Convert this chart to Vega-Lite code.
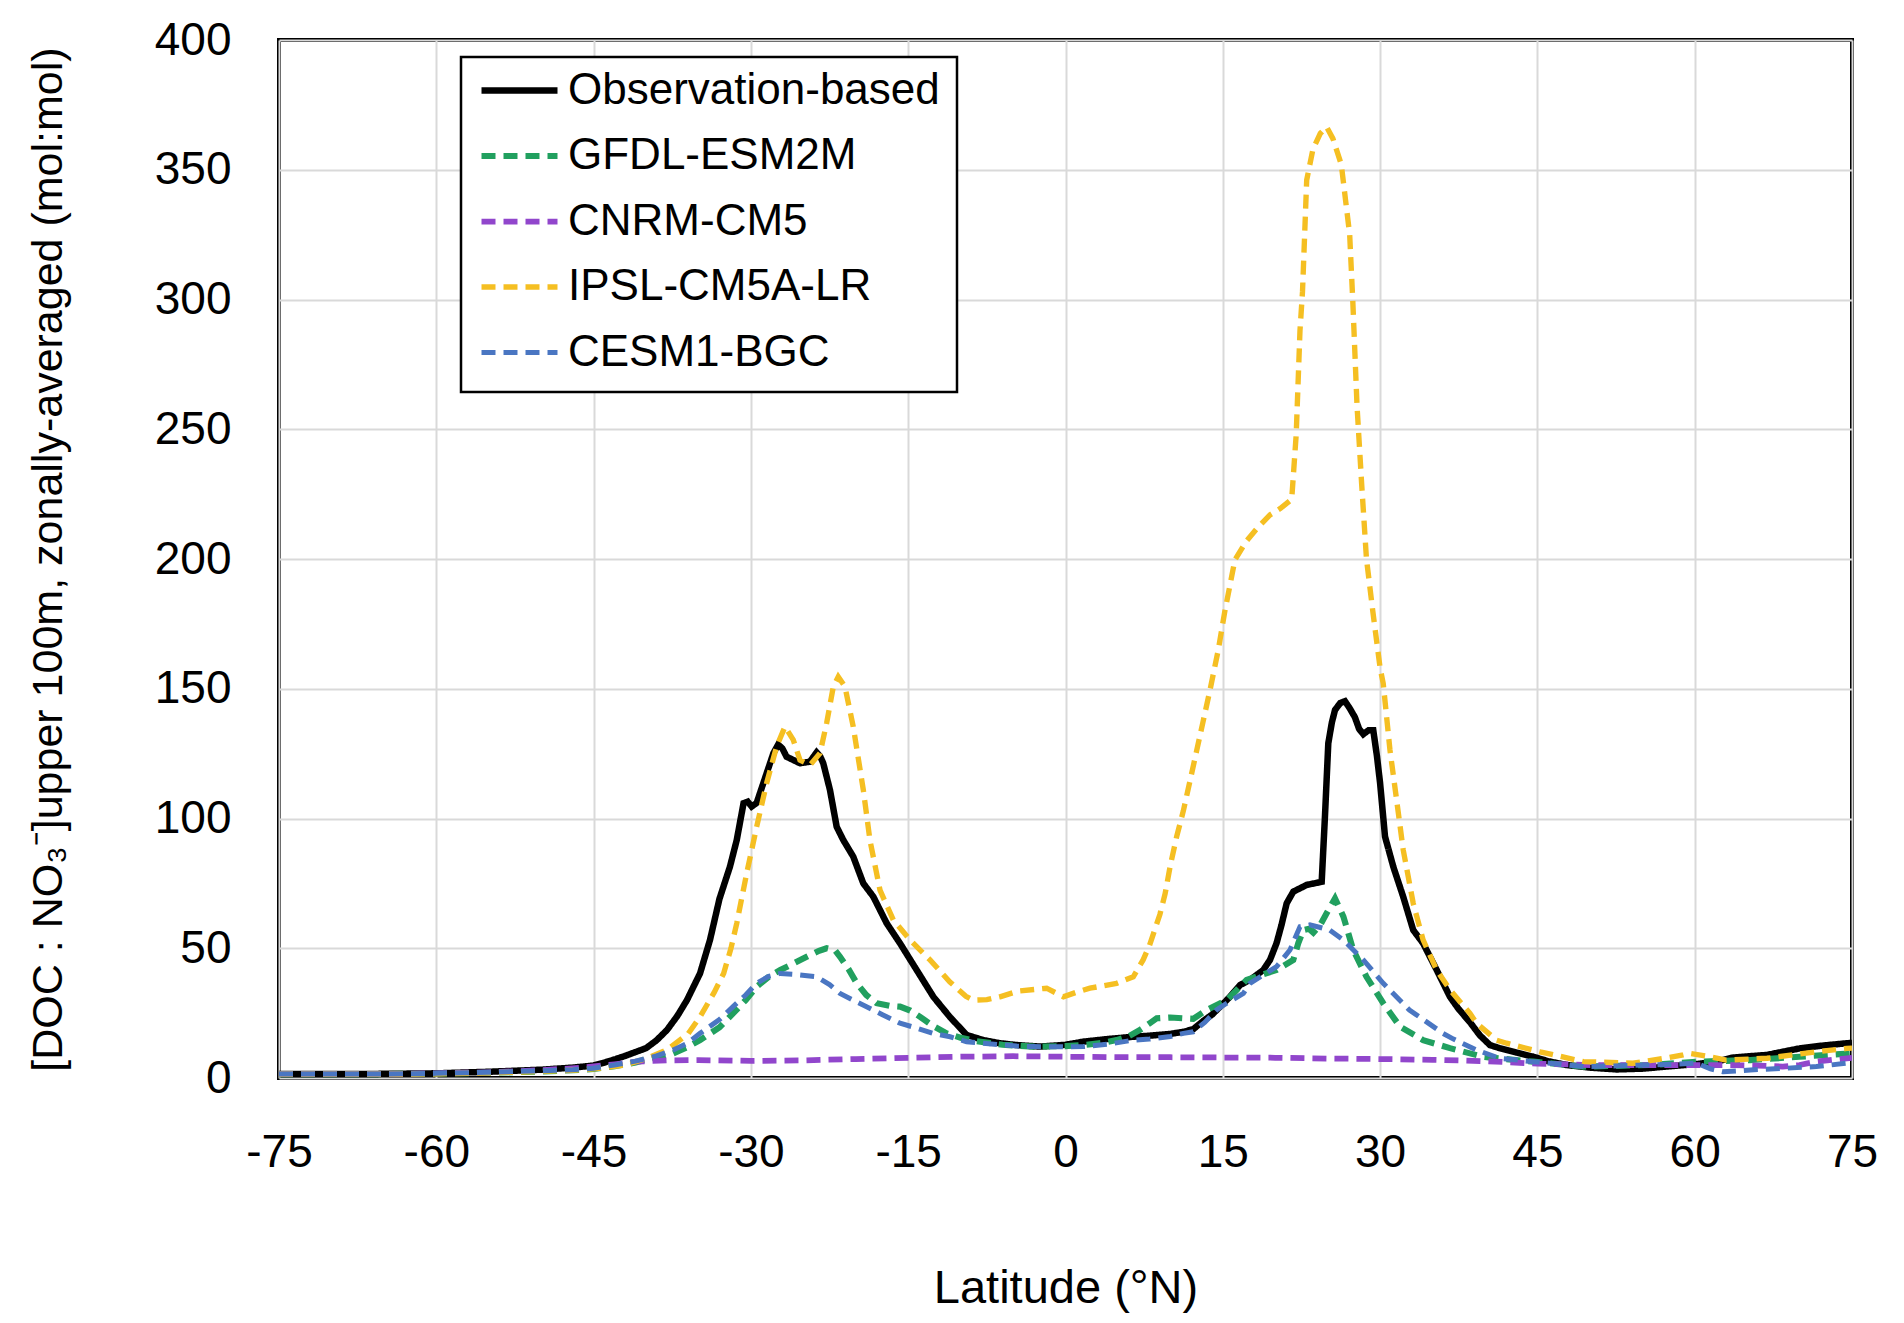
{
  "$schema": "https://vega.github.io/schema/vega-lite/v6.json",
  "autosize": {"type": "none"},
  "padding": {"left": 279, "top": 40, "right": 52, "bottom": 245},
  "width": 1573,
  "height": 1038,
  "background": "white",
  "config": {
    "font": "Liberation Sans",
    "view": {"stroke": "black", "strokeWidth": 4},
    "axis": {"gridColor": "#d9d9d9", "gridWidth": 2, "domain": false, "ticks": false, "labelColor": "black", "titleColor": "black", "titleFontWeight": "normal", "labelFont": "Liberation Sans", "titleFont": "Liberation Sans"},
    "legend": {"strokeWidth": 2.5}
  },
  "data": {"values": [
    {"s":"Observation-based","lat":-75,"v":1.5},{"s":"Observation-based","lat":-70,"v":1.5},{"s":"Observation-based","lat":-65,"v":1.6},{"s":"Observation-based","lat":-60,"v":1.8},{"s":"Observation-based","lat":-55,"v":2.4},{"s":"Observation-based","lat":-50,"v":3.2},{"s":"Observation-based","lat":-47,"v":4},{"s":"Observation-based","lat":-45,"v":4.8},{"s":"Observation-based","lat":-43.5,"v":6.5},{"s":"Observation-based","lat":-42,"v":8.5},{"s":"Observation-based","lat":-41,"v":10},{"s":"Observation-based","lat":-40,"v":11.5},{"s":"Observation-based","lat":-39,"v":14.5},{"s":"Observation-based","lat":-38,"v":18.5},{"s":"Observation-based","lat":-37,"v":24},{"s":"Observation-based","lat":-36.1,"v":30},{"s":"Observation-based","lat":-34.85,"v":40.3},{"s":"Observation-based","lat":-33.9,"v":53.2},{"s":"Observation-based","lat":-33,"v":69},{"s":"Observation-based","lat":-32,"v":81.4},{"s":"Observation-based","lat":-31.35,"v":91.7},{"s":"Observation-based","lat":-30.7,"v":105.9},{"s":"Observation-based","lat":-30.3,"v":106.5},{"s":"Observation-based","lat":-29.93,"v":104.6},{"s":"Observation-based","lat":-29.45,"v":106},{"s":"Observation-based","lat":-28.5,"v":117.4},{"s":"Observation-based","lat":-27.86,"v":125.1},{"s":"Observation-based","lat":-27.4,"v":128.5},{"s":"Observation-based","lat":-27,"v":127},{"s":"Observation-based","lat":-26.6,"v":123.8},{"s":"Observation-based","lat":-25.32,"v":121.3},{"s":"Observation-based","lat":-24.37,"v":121.9},{"s":"Observation-based","lat":-23.73,"v":125.5},{"s":"Observation-based","lat":-23.4,"v":124},{"s":"Observation-based","lat":-23.1,"v":121.3},{"s":"Observation-based","lat":-22.46,"v":111},{"s":"Observation-based","lat":-21.82,"v":96.8},{"s":"Observation-based","lat":-21.19,"v":91.7},{"s":"Observation-based","lat":-20.24,"v":85.3},{"s":"Observation-based","lat":-19.28,"v":75},{"s":"Observation-based","lat":-18.33,"v":69.9},{"s":"Observation-based","lat":-17.05,"v":59.6},{"s":"Observation-based","lat":-15.78,"v":51.9},{"s":"Observation-based","lat":-14.19,"v":41.6},{"s":"Observation-based","lat":-12.6,"v":31.3},{"s":"Observation-based","lat":-11.02,"v":23.5},{"s":"Observation-based","lat":-9.43,"v":16.6},{"s":"Observation-based","lat":-7.84,"v":14.6},{"s":"Observation-based","lat":-6.25,"v":13.4},{"s":"Observation-based","lat":-4.66,"v":12.7},{"s":"Observation-based","lat":-2.44,"v":12.1},{"s":"Observation-based","lat":0,"v":12.8},{"s":"Observation-based","lat":1.69,"v":14},{"s":"Observation-based","lat":4,"v":15},{"s":"Observation-based","lat":6.46,"v":15.9},{"s":"Observation-based","lat":8,"v":16.3},{"s":"Observation-based","lat":10,"v":17},{"s":"Observation-based","lat":11.24,"v":17.8},{"s":"Observation-based","lat":12.18,"v":18.8},{"s":"Observation-based","lat":13.14,"v":22},{"s":"Observation-based","lat":14,"v":24.5},{"s":"Observation-based","lat":15.37,"v":30},{"s":"Observation-based","lat":15.68,"v":31.3},{"s":"Observation-based","lat":16.64,"v":35.8},{"s":"Observation-based","lat":17.59,"v":37.8},{"s":"Observation-based","lat":18.86,"v":41.6},{"s":"Observation-based","lat":19.5,"v":45.5},{"s":"Observation-based","lat":20.13,"v":52},{"s":"Observation-based","lat":20.6,"v":59},{"s":"Observation-based","lat":21.09,"v":67.3},{"s":"Observation-based","lat":21.72,"v":71.8},{"s":"Observation-based","lat":23,"v":74.4},{"s":"Observation-based","lat":24.43,"v":75.6},{"s":"Observation-based","lat":24.74,"v":100.7},{"s":"Observation-based","lat":25.06,"v":129},{"s":"Observation-based","lat":25.4,"v":137},{"s":"Observation-based","lat":25.7,"v":141.8},{"s":"Observation-based","lat":26.2,"v":144.5},{"s":"Observation-based","lat":26.65,"v":145.2},{"s":"Observation-based","lat":27.1,"v":142.5},{"s":"Observation-based","lat":27.6,"v":139},{"s":"Observation-based","lat":28,"v":134.5},{"s":"Observation-based","lat":28.4,"v":132.5},{"s":"Observation-based","lat":28.9,"v":134},{"s":"Observation-based","lat":29.35,"v":134},{"s":"Observation-based","lat":29.7,"v":124},{"s":"Observation-based","lat":30,"v":113.6},{"s":"Observation-based","lat":30.47,"v":93},{"s":"Observation-based","lat":31.26,"v":81.4},{"s":"Observation-based","lat":32.2,"v":69.9},{"s":"Observation-based","lat":33.16,"v":57},{"s":"Observation-based","lat":34.1,"v":51.9},{"s":"Observation-based","lat":35.4,"v":41.6},{"s":"Observation-based","lat":36.66,"v":31.3},{"s":"Observation-based","lat":37.5,"v":26.5},{"s":"Observation-based","lat":38.57,"v":21.5},{"s":"Observation-based","lat":39.5,"v":16.5},{"s":"Observation-based","lat":40.47,"v":12.7},{"s":"Observation-based","lat":41.4,"v":11.5},{"s":"Observation-based","lat":43,"v":9.8},{"s":"Observation-based","lat":44.6,"v":8.2},{"s":"Observation-based","lat":46,"v":6.5},{"s":"Observation-based","lat":47.8,"v":5},{"s":"Observation-based","lat":50,"v":4},{"s":"Observation-based","lat":52.56,"v":3.3},{"s":"Observation-based","lat":55,"v":3.6},{"s":"Observation-based","lat":57.3,"v":4.4},{"s":"Observation-based","lat":60,"v":5.3},{"s":"Observation-based","lat":62.1,"v":6.3},{"s":"Observation-based","lat":63.5,"v":7.8},{"s":"Observation-based","lat":64.6,"v":8.2},{"s":"Observation-based","lat":66.9,"v":8.9},{"s":"Observation-based","lat":68.5,"v":10.2},{"s":"Observation-based","lat":70,"v":11.4},{"s":"Observation-based","lat":72,"v":12.4},{"s":"Observation-based","lat":74.5,"v":13.4},{"s":"Observation-based","lat":75,"v":13.5},

    {"s":"GFDL-ESM2M","lat":-75,"v":1.5},{"s":"GFDL-ESM2M","lat":-65,"v":1.5},{"s":"GFDL-ESM2M","lat":-60,"v":1.7},{"s":"GFDL-ESM2M","lat":-55,"v":2},{"s":"GFDL-ESM2M","lat":-50,"v":2.5},{"s":"GFDL-ESM2M","lat":-47,"v":3},{"s":"GFDL-ESM2M","lat":-45,"v":3.5},{"s":"GFDL-ESM2M","lat":-43,"v":4.5},{"s":"GFDL-ESM2M","lat":-41,"v":6},{"s":"GFDL-ESM2M","lat":-39,"v":8},{"s":"GFDL-ESM2M","lat":-37.4,"v":9.5},{"s":"GFDL-ESM2M","lat":-36,"v":12},{"s":"GFDL-ESM2M","lat":-34.85,"v":14.6},{"s":"GFDL-ESM2M","lat":-33,"v":19.5},{"s":"GFDL-ESM2M","lat":-31.7,"v":24.9},{"s":"GFDL-ESM2M","lat":-30.5,"v":30},{"s":"GFDL-ESM2M","lat":-29.45,"v":35.2},{"s":"GFDL-ESM2M","lat":-28.3,"v":39},{"s":"GFDL-ESM2M","lat":-27.2,"v":41.6},{"s":"GFDL-ESM2M","lat":-26,"v":44},{"s":"GFDL-ESM2M","lat":-24.68,"v":46.7},{"s":"GFDL-ESM2M","lat":-23.5,"v":49},{"s":"GFDL-ESM2M","lat":-22.78,"v":50},{"s":"GFDL-ESM2M","lat":-22,"v":49.3},{"s":"GFDL-ESM2M","lat":-21.5,"v":46.7},{"s":"GFDL-ESM2M","lat":-20.7,"v":42},{"s":"GFDL-ESM2M","lat":-19.9,"v":36.5},{"s":"GFDL-ESM2M","lat":-19,"v":32},{"s":"GFDL-ESM2M","lat":-18,"v":28.8},{"s":"GFDL-ESM2M","lat":-16.8,"v":27.8},{"s":"GFDL-ESM2M","lat":-15.78,"v":27.5},{"s":"GFDL-ESM2M","lat":-14.8,"v":26},{"s":"GFDL-ESM2M","lat":-13.88,"v":23.6},{"s":"GFDL-ESM2M","lat":-12.6,"v":20},{"s":"GFDL-ESM2M","lat":-11.33,"v":17.2},{"s":"GFDL-ESM2M","lat":-10,"v":15.5},{"s":"GFDL-ESM2M","lat":-8.5,"v":14.2},{"s":"GFDL-ESM2M","lat":-6,"v":12.8},{"s":"GFDL-ESM2M","lat":-3.07,"v":12.1},{"s":"GFDL-ESM2M","lat":0,"v":12.3},{"s":"GFDL-ESM2M","lat":1.69,"v":12.7},{"s":"GFDL-ESM2M","lat":3.5,"v":13.5},{"s":"GFDL-ESM2M","lat":4.87,"v":14.6},{"s":"GFDL-ESM2M","lat":6,"v":16},{"s":"GFDL-ESM2M","lat":7.1,"v":18.5},{"s":"GFDL-ESM2M","lat":8,"v":21},{"s":"GFDL-ESM2M","lat":8.7,"v":23},{"s":"GFDL-ESM2M","lat":10,"v":23.3},{"s":"GFDL-ESM2M","lat":11.24,"v":23},{"s":"GFDL-ESM2M","lat":12.18,"v":22.8},{"s":"GFDL-ESM2M","lat":13.46,"v":26.2},{"s":"GFDL-ESM2M","lat":15.37,"v":30},{"s":"GFDL-ESM2M","lat":17.27,"v":37.8},{"s":"GFDL-ESM2M","lat":18.5,"v":39.5},{"s":"GFDL-ESM2M","lat":20.13,"v":41.6},{"s":"GFDL-ESM2M","lat":21.72,"v":45.5},{"s":"GFDL-ESM2M","lat":22.2,"v":52},{"s":"GFDL-ESM2M","lat":22.68,"v":57},{"s":"GFDL-ESM2M","lat":23.2,"v":57.5},{"s":"GFDL-ESM2M","lat":23.63,"v":56},{"s":"GFDL-ESM2M","lat":24.3,"v":59},{"s":"GFDL-ESM2M","lat":24.9,"v":63.5},{"s":"GFDL-ESM2M","lat":25.7,"v":69.2},{"s":"GFDL-ESM2M","lat":26.5,"v":62.2},{"s":"GFDL-ESM2M","lat":27.44,"v":49.3},{"s":"GFDL-ESM2M","lat":28.7,"v":39},{"s":"GFDL-ESM2M","lat":30.3,"v":28.8},{"s":"GFDL-ESM2M","lat":31.9,"v":19.8},{"s":"GFDL-ESM2M","lat":34.1,"v":14.6},{"s":"GFDL-ESM2M","lat":36.66,"v":11.5},{"s":"GFDL-ESM2M","lat":39.8,"v":8.2},{"s":"GFDL-ESM2M","lat":41.4,"v":7.5},{"s":"GFDL-ESM2M","lat":44.6,"v":6.3},{"s":"GFDL-ESM2M","lat":49.4,"v":4.4},{"s":"GFDL-ESM2M","lat":55.7,"v":5},{"s":"GFDL-ESM2M","lat":60.5,"v":6.3},{"s":"GFDL-ESM2M","lat":65.3,"v":6.9},{"s":"GFDL-ESM2M","lat":70,"v":8.2},{"s":"GFDL-ESM2M","lat":75,"v":9.5},

    {"s":"CNRM-CM5","lat":-75,"v":1.5},{"s":"CNRM-CM5","lat":-65,"v":1.5},{"s":"CNRM-CM5","lat":-60,"v":1.8},{"s":"CNRM-CM5","lat":-55,"v":2.2},{"s":"CNRM-CM5","lat":-50,"v":3},{"s":"CNRM-CM5","lat":-46,"v":4},{"s":"CNRM-CM5","lat":-43,"v":5.3},{"s":"CNRM-CM5","lat":-41,"v":6.3},{"s":"CNRM-CM5","lat":-38,"v":6.8},{"s":"CNRM-CM5","lat":-35,"v":6.9},{"s":"CNRM-CM5","lat":-30,"v":6.6},{"s":"CNRM-CM5","lat":-25,"v":6.8},{"s":"CNRM-CM5","lat":-20,"v":7.3},{"s":"CNRM-CM5","lat":-15,"v":7.8},{"s":"CNRM-CM5","lat":-10,"v":8.2},{"s":"CNRM-CM5","lat":-5,"v":8.4},{"s":"CNRM-CM5","lat":0,"v":8.2},{"s":"CNRM-CM5","lat":5,"v":8},{"s":"CNRM-CM5","lat":10,"v":8},{"s":"CNRM-CM5","lat":15,"v":7.9},{"s":"CNRM-CM5","lat":20,"v":7.8},{"s":"CNRM-CM5","lat":25,"v":7.5},{"s":"CNRM-CM5","lat":30,"v":7.3},{"s":"CNRM-CM5","lat":35,"v":7},{"s":"CNRM-CM5","lat":40,"v":6.5},{"s":"CNRM-CM5","lat":45,"v":5.5},{"s":"CNRM-CM5","lat":50,"v":5},{"s":"CNRM-CM5","lat":55,"v":5},{"s":"CNRM-CM5","lat":60,"v":5},{"s":"CNRM-CM5","lat":63.7,"v":5},{"s":"CNRM-CM5","lat":66,"v":4.8},{"s":"CNRM-CM5","lat":68.4,"v":4.4},{"s":"CNRM-CM5","lat":70,"v":5},{"s":"CNRM-CM5","lat":71.6,"v":6.3},{"s":"CNRM-CM5","lat":74.5,"v":7.6},{"s":"CNRM-CM5","lat":75,"v":7.8},

    {"s":"IPSL-CM5A-LR","lat":-75,"v":1.5},{"s":"IPSL-CM5A-LR","lat":-65,"v":1.5},{"s":"IPSL-CM5A-LR","lat":-60,"v":1.6},{"s":"IPSL-CM5A-LR","lat":-55,"v":2},{"s":"IPSL-CM5A-LR","lat":-50,"v":2.5},{"s":"IPSL-CM5A-LR","lat":-47,"v":3},{"s":"IPSL-CM5A-LR","lat":-45,"v":3.5},{"s":"IPSL-CM5A-LR","lat":-43,"v":4.5},{"s":"IPSL-CM5A-LR","lat":-42,"v":5},{"s":"IPSL-CM5A-LR","lat":-40,"v":7.5},{"s":"IPSL-CM5A-LR","lat":-38,"v":10.8},{"s":"IPSL-CM5A-LR","lat":-36,"v":17},{"s":"IPSL-CM5A-LR","lat":-34.85,"v":23.6},{"s":"IPSL-CM5A-LR","lat":-33.5,"v":33},{"s":"IPSL-CM5A-LR","lat":-32.6,"v":40.3},{"s":"IPSL-CM5A-LR","lat":-31.9,"v":50},{"s":"IPSL-CM5A-LR","lat":-31.35,"v":59.6},{"s":"IPSL-CM5A-LR","lat":-30.4,"v":78.9},{"s":"IPSL-CM5A-LR","lat":-29.45,"v":96.8},{"s":"IPSL-CM5A-LR","lat":-28.5,"v":113.6},{"s":"IPSL-CM5A-LR","lat":-27.55,"v":127.7},{"s":"IPSL-CM5A-LR","lat":-26.75,"v":135.4},{"s":"IPSL-CM5A-LR","lat":-25.96,"v":130.3},{"s":"IPSL-CM5A-LR","lat":-25.32,"v":122.5},{"s":"IPSL-CM5A-LR","lat":-24.37,"v":120.6},{"s":"IPSL-CM5A-LR","lat":-23.41,"v":125.1},{"s":"IPSL-CM5A-LR","lat":-22.78,"v":136.7},{"s":"IPSL-CM5A-LR","lat":-22.14,"v":150.8},{"s":"IPSL-CM5A-LR","lat":-21.67,"v":154.6},{"s":"IPSL-CM5A-LR","lat":-21.03,"v":150.8},{"s":"IPSL-CM5A-LR","lat":-20.24,"v":135.4},{"s":"IPSL-CM5A-LR","lat":-19.28,"v":111},{"s":"IPSL-CM5A-LR","lat":-18.65,"v":91.7},{"s":"IPSL-CM5A-LR","lat":-17.69,"v":72.4},{"s":"IPSL-CM5A-LR","lat":-16.42,"v":60.9},{"s":"IPSL-CM5A-LR","lat":-14.83,"v":53.2},{"s":"IPSL-CM5A-LR","lat":-12.92,"v":45.5},{"s":"IPSL-CM5A-LR","lat":-11.02,"v":37},{"s":"IPSL-CM5A-LR","lat":-9.5,"v":31.5},{"s":"IPSL-CM5A-LR","lat":-8.79,"v":30},{"s":"IPSL-CM5A-LR","lat":-7.5,"v":30.2},{"s":"IPSL-CM5A-LR","lat":-6.25,"v":31.3},{"s":"IPSL-CM5A-LR","lat":-4.5,"v":33.5},{"s":"IPSL-CM5A-LR","lat":-1.8,"v":34.6},{"s":"IPSL-CM5A-LR","lat":-0.2,"v":31.3},{"s":"IPSL-CM5A-LR","lat":1,"v":33},{"s":"IPSL-CM5A-LR","lat":2.33,"v":34.6},{"s":"IPSL-CM5A-LR","lat":4.87,"v":36.5},{"s":"IPSL-CM5A-LR","lat":6.46,"v":39},{"s":"IPSL-CM5A-LR","lat":7.4,"v":45.5},{"s":"IPSL-CM5A-LR","lat":8,"v":51},{"s":"IPSL-CM5A-LR","lat":8.5,"v":57},{"s":"IPSL-CM5A-LR","lat":9,"v":63},{"s":"IPSL-CM5A-LR","lat":9.5,"v":71},{"s":"IPSL-CM5A-LR","lat":10,"v":82},{"s":"IPSL-CM5A-LR","lat":10.6,"v":93},{"s":"IPSL-CM5A-LR","lat":11.24,"v":103},{"s":"IPSL-CM5A-LR","lat":11.9,"v":115},{"s":"IPSL-CM5A-LR","lat":12.5,"v":126},{"s":"IPSL-CM5A-LR","lat":13.1,"v":137},{"s":"IPSL-CM5A-LR","lat":13.78,"v":149.5},{"s":"IPSL-CM5A-LR","lat":14.57,"v":165},{"s":"IPSL-CM5A-LR","lat":15.2,"v":180},{"s":"IPSL-CM5A-LR","lat":16.16,"v":199.7},{"s":"IPSL-CM5A-LR","lat":17.27,"v":207},{"s":"IPSL-CM5A-LR","lat":18.3,"v":212},{"s":"IPSL-CM5A-LR","lat":19.5,"v":217},{"s":"IPSL-CM5A-LR","lat":20.5,"v":219.5},{"s":"IPSL-CM5A-LR","lat":21.57,"v":223},{"s":"IPSL-CM5A-LR","lat":22,"v":248},{"s":"IPSL-CM5A-LR","lat":22.36,"v":288},{"s":"IPSL-CM5A-LR","lat":22.6,"v":303},{"s":"IPSL-CM5A-LR","lat":23,"v":346},{"s":"IPSL-CM5A-LR","lat":23.6,"v":358},{"s":"IPSL-CM5A-LR","lat":24.3,"v":364},{"s":"IPSL-CM5A-LR","lat":24.9,"v":366.5},{"s":"IPSL-CM5A-LR","lat":25.5,"v":362},{"s":"IPSL-CM5A-LR","lat":26.3,"v":352},{"s":"IPSL-CM5A-LR","lat":27.1,"v":325},{"s":"IPSL-CM5A-LR","lat":27.4,"v":299},{"s":"IPSL-CM5A-LR","lat":27.8,"v":259},{"s":"IPSL-CM5A-LR","lat":28.24,"v":229},{"s":"IPSL-CM5A-LR","lat":28.7,"v":200},{"s":"IPSL-CM5A-LR","lat":29.3,"v":180},{"s":"IPSL-CM5A-LR","lat":30,"v":158},{"s":"IPSL-CM5A-LR","lat":30.3,"v":152},{"s":"IPSL-CM5A-LR","lat":30.94,"v":126.4},{"s":"IPSL-CM5A-LR","lat":31.58,"v":107},{"s":"IPSL-CM5A-LR","lat":32.2,"v":88},{"s":"IPSL-CM5A-LR","lat":33.16,"v":67.3},{"s":"IPSL-CM5A-LR","lat":34.1,"v":53.2},{"s":"IPSL-CM5A-LR","lat":35.4,"v":41.6},{"s":"IPSL-CM5A-LR","lat":36.66,"v":34},{"s":"IPSL-CM5A-LR","lat":38.57,"v":24.9},{"s":"IPSL-CM5A-LR","lat":39.2,"v":21.1},{"s":"IPSL-CM5A-LR","lat":41.1,"v":14.6},{"s":"IPSL-CM5A-LR","lat":42.07,"v":13.4},{"s":"IPSL-CM5A-LR","lat":45.25,"v":10.1},{"s":"IPSL-CM5A-LR","lat":49.4,"v":6.3},{"s":"IPSL-CM5A-LR","lat":54.1,"v":5.7},{"s":"IPSL-CM5A-LR","lat":57,"v":7.5},{"s":"IPSL-CM5A-LR","lat":58.9,"v":8.9},{"s":"IPSL-CM5A-LR","lat":59.5,"v":9.5},{"s":"IPSL-CM5A-LR","lat":61,"v":8.5},{"s":"IPSL-CM5A-LR","lat":63,"v":6.9},{"s":"IPSL-CM5A-LR","lat":66.9,"v":7.6},{"s":"IPSL-CM5A-LR","lat":71.6,"v":10.1},{"s":"IPSL-CM5A-LR","lat":74.5,"v":11.4},{"s":"IPSL-CM5A-LR","lat":75,"v":11.5},

    {"s":"CESM1-BGC","lat":-75,"v":1.5},{"s":"CESM1-BGC","lat":-65,"v":1.5},{"s":"CESM1-BGC","lat":-60,"v":1.8},{"s":"CESM1-BGC","lat":-55,"v":2.2},{"s":"CESM1-BGC","lat":-50,"v":2.8},{"s":"CESM1-BGC","lat":-47,"v":3.2},{"s":"CESM1-BGC","lat":-45,"v":3.8},{"s":"CESM1-BGC","lat":-43,"v":5},{"s":"CESM1-BGC","lat":-41,"v":6.5},{"s":"CESM1-BGC","lat":-39,"v":8.5},{"s":"CESM1-BGC","lat":-37.4,"v":10.8},{"s":"CESM1-BGC","lat":-36,"v":13.5},{"s":"CESM1-BGC","lat":-34.85,"v":17.2},{"s":"CESM1-BGC","lat":-33,"v":22.5},{"s":"CESM1-BGC","lat":-31.7,"v":27.5},{"s":"CESM1-BGC","lat":-30.5,"v":32},{"s":"CESM1-BGC","lat":-29.45,"v":36.5},{"s":"CESM1-BGC","lat":-28.3,"v":39.2},{"s":"CESM1-BGC","lat":-27.2,"v":40.3},{"s":"CESM1-BGC","lat":-26,"v":40},{"s":"CESM1-BGC","lat":-25.32,"v":39.7},{"s":"CESM1-BGC","lat":-23.73,"v":39},{"s":"CESM1-BGC","lat":-22.5,"v":36},{"s":"CESM1-BGC","lat":-21.5,"v":32.6},{"s":"CESM1-BGC","lat":-20,"v":29.5},{"s":"CESM1-BGC","lat":-18.97,"v":27.5},{"s":"CESM1-BGC","lat":-17.5,"v":24.5},{"s":"CESM1-BGC","lat":-15.78,"v":21.1},{"s":"CESM1-BGC","lat":-14,"v":19},{"s":"CESM1-BGC","lat":-12.6,"v":17.2},{"s":"CESM1-BGC","lat":-11,"v":15.9},{"s":"CESM1-BGC","lat":-9.43,"v":14},{"s":"CESM1-BGC","lat":-7.84,"v":13.4},{"s":"CESM1-BGC","lat":-4.66,"v":12.3},{"s":"CESM1-BGC","lat":-3,"v":12.1},{"s":"CESM1-BGC","lat":0,"v":12},{"s":"CESM1-BGC","lat":1.69,"v":12.1},{"s":"CESM1-BGC","lat":4,"v":13},{"s":"CESM1-BGC","lat":6.46,"v":14.6},{"s":"CESM1-BGC","lat":8,"v":15},{"s":"CESM1-BGC","lat":10,"v":16},{"s":"CESM1-BGC","lat":11.24,"v":17.2},{"s":"CESM1-BGC","lat":12.18,"v":17.8},{"s":"CESM1-BGC","lat":13.3,"v":21.5},{"s":"CESM1-BGC","lat":14.4,"v":26.2},{"s":"CESM1-BGC","lat":15.37,"v":28.8},{"s":"CESM1-BGC","lat":16.96,"v":32.6},{"s":"CESM1-BGC","lat":17.59,"v":36.5},{"s":"CESM1-BGC","lat":20.13,"v":42.9},{"s":"CESM1-BGC","lat":21.4,"v":49.3},{"s":"CESM1-BGC","lat":22.36,"v":58.3},{"s":"CESM1-BGC","lat":23.3,"v":59},{"s":"CESM1-BGC","lat":24.3,"v":58},{"s":"CESM1-BGC","lat":25.2,"v":57},{"s":"CESM1-BGC","lat":26.5,"v":53.2},{"s":"CESM1-BGC","lat":28.4,"v":45.5},{"s":"CESM1-BGC","lat":30.3,"v":36.5},{"s":"CESM1-BGC","lat":32.8,"v":26.2},{"s":"CESM1-BGC","lat":36,"v":17.2},{"s":"CESM1-BGC","lat":37,"v":15},{"s":"CESM1-BGC","lat":39.2,"v":10.8},{"s":"CESM1-BGC","lat":41.4,"v":7.6},{"s":"CESM1-BGC","lat":44.6,"v":6.3},{"s":"CESM1-BGC","lat":49.4,"v":4.4},{"s":"CESM1-BGC","lat":55.7,"v":5},{"s":"CESM1-BGC","lat":60.2,"v":5.7},{"s":"CESM1-BGC","lat":61.5,"v":3.5},{"s":"CESM1-BGC","lat":62.7,"v":2.4},{"s":"CESM1-BGC","lat":65.3,"v":3.1},{"s":"CESM1-BGC","lat":68.4,"v":3.7},{"s":"CESM1-BGC","lat":71.6,"v":4.4},{"s":"CESM1-BGC","lat":74.5,"v":5.7},{"s":"CESM1-BGC","lat":75,"v":6}
  ]},
  "mark": {"type": "line", "clip": true},
  "encoding": {
    "x": {
      "field": "lat", "type": "quantitative",
      "scale": {"domain": [-75, 75], "nice": false, "zero": false},
      "axis": {"values": [-75, -60, -45, -30, -15, 0, 15, 30, 45, 60, 75], "labelExpr": "'' + datum.value", "title": "Latitude (°N)", "labelFontSize": 46, "titleFontSize": 47, "labelPadding": 52, "titlePadding": 90, "labelFlush": false, "grid": true}
    },
    "y": {
      "field": "v", "type": "quantitative",
      "scale": {"domain": [0, 400], "nice": false},
      "axis": {"values": [0, 50, 100, 150, 200, 250, 300, 350, 400], "title": "[DOC : NO₃⁻]upper 100m, zonally-averaged (mol:mol)", "labelFontSize": 46, "titleFontSize": 43, "labelPadding": 48, "titlePadding": 84, "grid": true}
    },
    "color": {
      "field": "s", "type": "nominal", "title": null,
      "scale": {"domain": ["Observation-based", "GFDL-ESM2M", "CNRM-CM5", "IPSL-CM5A-LR", "CESM1-BGC"], "range": ["#000000", "#21a05f", "#9146cc", "#f5bf22", "#4a76c2"]},
      "legend": {"orient": "none", "legendX": 182, "legendY": 17, "symbolType": "stroke", "symbolSize": 5776, "labelFontSize": 44, "labelFont": "Liberation Sans", "labelColor": "black", "labelLimit": 800, "labelOffset": 7, "clipHeight": 33, "rowPadding": 20.5, "padding": 17, "strokeColor": "black", "fillColor": "white"}
    },
    "strokeDash": {
      "field": "s", "type": "nominal", "title": null,
      "scale": {"domain": ["Observation-based", "GFDL-ESM2M", "CNRM-CM5", "IPSL-CM5A-LR", "CESM1-BGC"], "range": [[1, 0], [14, 8], [14, 8], [14, 8], [14, 8]]}
    },
    "strokeWidth": {
      "field": "s", "type": "nominal", "title": null,
      "scale": {"domain": ["Observation-based", "GFDL-ESM2M", "CNRM-CM5", "IPSL-CM5A-LR", "CESM1-BGC"], "range": [6.5, 5, 5, 5, 5]}
    }
  }
}
